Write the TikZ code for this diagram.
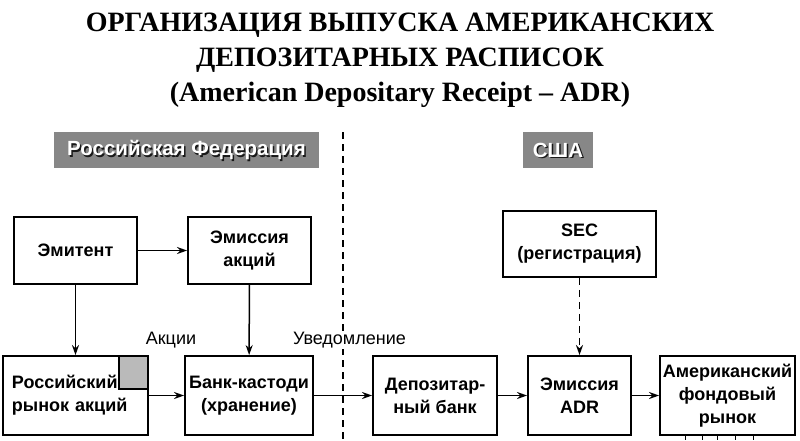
\documentclass[tikz,border=0pt]{standalone}
\usepackage{fontspec}
\setmainfont{Liberation Sans}
\newfontfamily\titlefont{Liberation Serif}
\usetikzlibrary{arrows.meta,backgrounds}

\begin{document}
\begin{tikzpicture}[x=1pt,y=-1pt,
	box/.style={draw, line width=1.9pt, align=center, inner sep=0pt, minimum height=67pt,
		font=\bfseries\fontsize{18}{23}\selectfont},
	hdr/.style={fill=black!47, minimum height=36pt, inner sep=0pt},
	hdrtext/.style={font=\bfseries\fontsize{20.5}{22}\selectfont, inner sep=0pt},
	lbl/.style={font=\fontsize{18}{20}\selectfont, fill=white, inner sep=1pt},
	arr/.style={line width=1.5pt, -{Stealth[length=10pt,width=7pt]}},
	sep/.style={line width=1.6pt, dash pattern=on 7pt off 5pt}]
\useasboundingbox (0,0) rectangle (800,440);

\node[font=\titlefont\bfseries\fontsize{28}{35}\selectfont, align=center, inner sep=0pt] (title) at (400,60)
	{ОРГАНИЗАЦИЯ ВЫПУСКА АМЕРИКАНСКИХ\\ДЕПОЗИТАРНЫХ РАСПИСОК\\(American Depositary Receipt – ADR)};

\node[hdr, minimum width=265pt] (rf) at (186.5,150) {};
\node[hdrtext, text=black!90] at ([shift={(1.5,1.5)}]rf.center) {Российская Федерация};
\node[hdrtext, text=white] at (rf.center) {Российская Федерация};
\node[hdr, minimum width=70pt] (usa) at (558,150) {};
\node[hdrtext, text=black!90] at ([shift={(1.5,1.5)}]usa.center) {США};
\node[hdrtext, text=white] at (usa.center) {США};

\coordinate (sept) at (343,132);
\coordinate (sepb) at (343,440);
\draw[sep] (sept) -- (sepb);

\node[box, minimum width=123pt] (emit) at (75.5,250.5) {Эмитент};
\node[box, minimum width=123pt] (emis) at (249.5,250.5) {Эмиссия\\акций};
\node[box, minimum width=153pt, minimum height=66pt] (sec) at (579.5,244) {SEC\\(регистрация)};

\node[box, minimum width=145pt, minimum height=79pt, text width=127pt, align=left] (rus) at (75.5,395.5) {Российский\\рынок акций};
\node[box, minimum width=128pt, minimum height=79pt] (bank) at (249,395.5) {Банк-кастоди\\(хранение)};
\node[box, minimum width=124pt, minimum height=79pt] (dep) at (435,395.5) {Депозитар-\\ный банк};
\node[box, minimum width=103pt, minimum height=79pt] (adr) at (579.5,395.5) {Эмиссия\\ADR};
\node[box, minimum width=135pt, minimum height=79pt] (amer) at (727.5,395.5) {Американский\\фондовый\\рынок};
\begin{scope}[on background layer]
\node[draw, line width=1.5pt, fill=black!27, minimum width=29pt, minimum height=33pt, anchor=north east] (sq) at (rus.north east) {};
\end{scope}

\node[lbl] (akc) at (171,340) {Акции};
\node[lbl] (uved) at (349.5,340) {Уведомление};

\draw[arr] (emit) -- (emis);
\draw[arr] (emit) -- (rus);
\draw[arr] (emis) -- (bank);
\draw[arr] (rus) -- (bank);
\draw[arr] (bank) -- (dep);
\draw[arr] (dep) -- (adr);
\draw[arr] (adr) -- (amer);
\draw[arr, sep] (sec) -- (adr);

\foreach \x in {685,702,717,735,753}
	\draw[line width=1pt] ([xshift=\x pt-727.5pt]amer.south) -- ++(0,4);
\end{tikzpicture}
\end{document}
